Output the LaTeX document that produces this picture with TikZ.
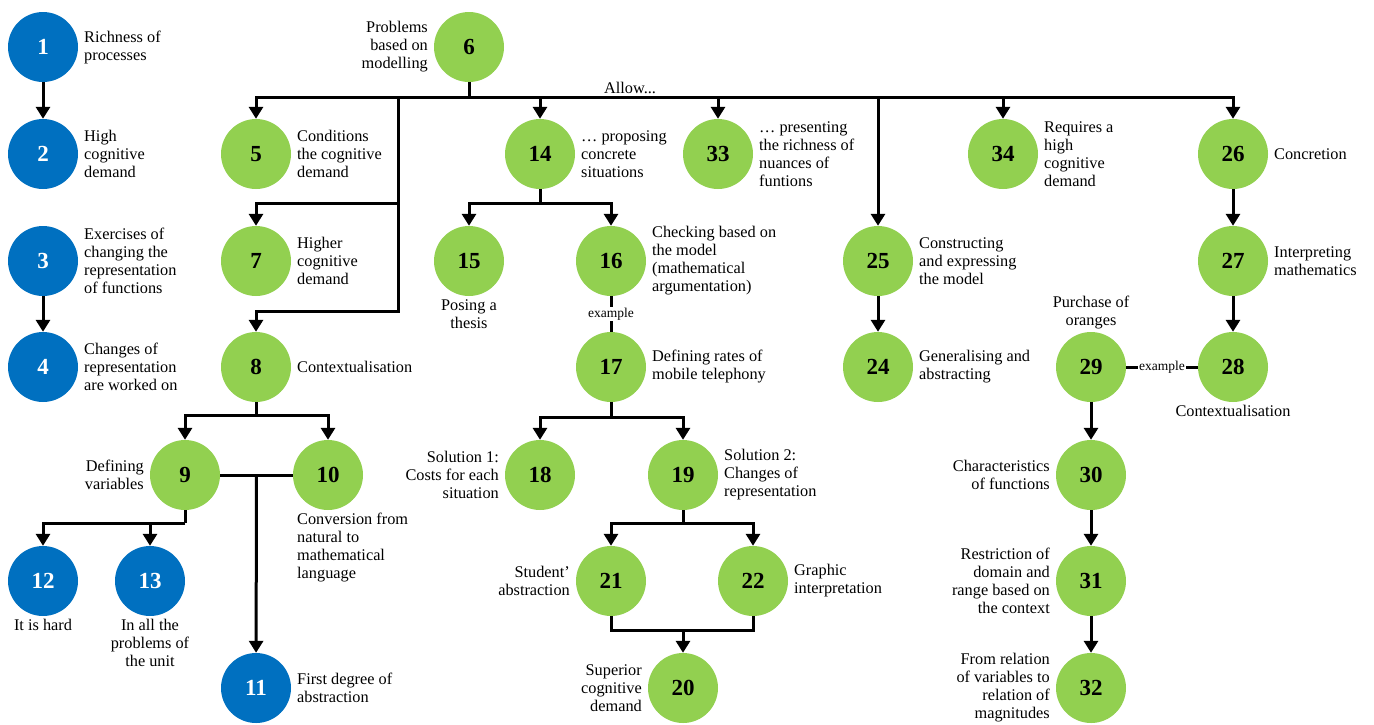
\documentclass[tikz,border=0pt]{standalone}
\usepackage{fontspec}
\setmainfont{Liberation Serif}
\usetikzlibrary{arrows.meta,calc}
\definecolor{leafgreen}{RGB}{146,208,80}
\definecolor{deepblue}{RGB}{0,112,192}
\begin{document}
\begin{tikzpicture}[x=1pt,y=-1pt,
  gnode/.style={circle,fill=leafgreen,minimum size=70pt,inner sep=0pt,
    font=\fontsize{23}{23}\selectfont\bfseries,text=black},
  bnode/.style={gnode,fill=deepblue,text=white},
  txt/.style={font=\fontsize{16.3}{18}\selectfont,inner sep=0pt},
  rtxt/.style={txt,anchor=west,align=left},
  ltxt/.style={txt,anchor=east,align=right},
  btxt/.style={txt,anchor=north,align=center},
  atxt/.style={txt,anchor=south,align=center},
  conn/.style={line width=3pt},
  arr/.style={conn,-{Triangle[width=14pt,length=12pt]}},
  exlabel/.style={fill=white,inner sep=1.2pt,font=\fontsize{13.5}{14}\selectfont}
]
\useasboundingbox (0,0) rectangle (1374,724);

% ---- circles ----
\node[bnode] (n1) at (43,47) {1};
\node[bnode] (n2) at (43,154) {2};
\node[bnode] (n3) at (43,261) {3};
\node[bnode] (n4) at (43,367) {4};
\node[gnode] (n6) at (469,47) {6};
\node[gnode] (n5) at (256,154) {5};
\node[gnode] (n7) at (256,261) {7};
\node[gnode] (n8) at (256,367) {8};
\node[gnode] (n9) at (185,475) {9};
\node[gnode] (n10) at (328,475) {10};
\node[bnode] (n12) at (43,581) {12};
\node[bnode] (n13) at (150,581) {13};
\node[bnode] (n11) at (256,688) {11};
\node[gnode] (n14) at (540,154) {14};
\node[gnode] (n15) at (469,261) {15};
\node[gnode] (n16) at (611,261) {16};
\node[gnode] (n17) at (611,367) {17};
\node[gnode] (n18) at (540,475) {18};
\node[gnode] (n19) at (683,475) {19};
\node[gnode] (n21) at (611,581) {21};
\node[gnode] (n22) at (753,581) {22};
\node[gnode] (n20) at (683,688) {20};
\node[gnode] (n33) at (718,154) {33};
\node[gnode] (n25) at (878,261) {25};
\node[gnode] (n24) at (878,367) {24};
\node[gnode] (n34) at (1003,154) {34};
\node[gnode] (n26) at (1233,154) {26};
\node[gnode] (n27) at (1233,261) {27};
\node[gnode] (n28) at (1233,367) {28};
\node[gnode] (n29) at (1091,367) {29};
\node[gnode] (n30) at (1091,475) {30};
\node[gnode] (n31) at (1091,581) {31};
\node[gnode] (n32) at (1091,688) {32};

% ---- texts ----
\node[rtxt] (t1) at ($(n1)+(41,0)$) {Richness of\\processes};
\node[rtxt] (t2) at ($(n2)+(41,0)$) {High\\cognitive\\demand};
\node[rtxt] (t3) at ($(n3)+(41,0)$) {Exercises of\\changing the\\representation\\of functions};
\node[rtxt] (t4) at ($(n4)+(41,0)$) {Changes of\\representation\\are worked on};
\node[ltxt] (t6) at ($(n6)+(-41,0)$) {Problems\\based on\\modelling};
\node[rtxt] (t5) at ($(n5)+(41,0)$) {Conditions\\the cognitive\\demand};
\node[rtxt] (t7) at ($(n7)+(41,0)$) {Higher\\cognitive\\demand};
\node[rtxt] (t8) at ($(n8)+(41,0)$) {Contextualisation};
\node[ltxt] (t9) at ($(n9)+(-41,0)$) {Defining\\variables};
\node[txt,anchor=north west,align=left] (t10) at ($(n10)+(-31,38)$) {Conversion from\\natural to\\mathematical\\language};
\node[btxt] (t12) at ($(n12)+(0,38)$) {It is hard};
\node[btxt] (t13) at ($(n13)+(0,38)$) {In all the\\problems of\\the unit};
\node[rtxt] (t11) at ($(n11)+(41,0)$) {First degree of\\abstraction};
\node[rtxt] (t14) at ($(n14)+(41,0)$) {… proposing\\concrete\\situations};
\node[btxt] (t15) at ($(n15)+(0,38)$) {Posing a\\thesis};
\node[rtxt] (t16) at ($(n16)+(41,0)$) {Checking based on\\the model\\(mathematical\\argumentation)};
\node[rtxt] (t17) at ($(n17)+(41,0)$) {Defining rates of\\mobile telephony};
\node[ltxt] (t18) at ($(n18)+(-41,0)$) {Solution 1:\\Costs for each\\situation};
\node[rtxt] (t19) at ($(n19)+(41,0)$) {Solution 2:\\Changes of\\representation};
\node[ltxt] (t21) at ($(n21)+(-41,0)$) {Student’\\abstraction};
\node[rtxt] (t22) at ($(n22)+(41,0)$) {Graphic\\interpretation};
\node[ltxt] (t20) at ($(n20)+(-41,0)$) {Superior\\cognitive\\demand};
\node[rtxt] (t33) at ($(n33)+(41,0)$) {… presenting\\the richness of\\nuances of\\funtions};
\node[rtxt] (t25) at ($(n25)+(41,0)$) {Constructing\\and expressing\\the model};
\node[rtxt] (t24) at ($(n24)+(41,0)$) {Generalising and\\abstracting};
\node[rtxt] (t34) at ($(n34)+(41,0)$) {Requires a\\high\\cognitive\\demand};
\node[rtxt] (t26) at ($(n26)+(41,0)$) {Concretion};
\node[rtxt] (t27) at ($(n27)+(41,0)$) {Interpreting\\mathematics};
\node[btxt] (t28) at ($(n28)+(0,38)$) {Contextualisation};
\node[atxt] (t29) at ($(n29)+(0,-38)$) {Purchase of\\oranges};
\node[ltxt] (t30) at ($(n30)+(-41,0)$) {Characteristics\\of functions};
\node[ltxt] (t31) at ($(n31)+(-41,0)$) {Restriction of\\domain and\\range based on\\the context};
\node[ltxt] (t32) at ($(n32)+(-41,0)$) {From relation\\of variables to\\relation of\\magnitudes};
\node[txt,anchor=south] (allow) at (630,94) {Allow...};

% ---- junction points ----
\coordinate (bus) at (0,97);
\coordinate (v0) at (398,97);
\coordinate (v7) at (398,203);
\coordinate (v8) at (398,311);
\coordinate (s8) at (256,415);
\coordinate (s9) at (185,523);
\coordinate (j11) at ($(n9)!0.5!(n10)$);
\coordinate (s14) at (540,203);
\coordinate (s17) at (611,417);
\coordinate (s19) at (683,523);
\coordinate (j20) at (683,630);

% ---- connectors ----
\draw[arr] (n1) -- (n2);
\draw[arr] (n3) -- (n4);

\draw[conn] (n6) -- (n6 |- bus);
\draw[arr] (n6 |- bus) -| (n5);
\draw[arr] (n6 |- bus) -| (n26);
\draw[arr] (n14 |- bus) -- (n14);
\draw[arr] (n33 |- bus) -- (n33);
\draw[arr] (n25 |- bus) -- (n25);
\draw[arr] (n34 |- bus) -- (n34);
\draw[arr] (v0) -- (v8) -| (n8);
\draw[arr] (v7) -| (n7);

\draw[conn] (n8) -- (s8);
\draw[arr] (s8) -| (n9);
\draw[arr] (s8) -| (n10);
\draw[conn] (n9) -- (n10);
\draw[arr] (j11) -- (n11);
\draw[conn] (n9) -- (s9);
\draw[arr] (s9) -| (n12);
\draw[arr] (s9) -| (n13);

\draw[conn] (n14) -- (s14);
\draw[arr] (s14) -| (n15);
\draw[arr] (s14) -| (n16);
\draw[conn] (n16) -- node[exlabel] (ex1) {example} (n17);
\draw[conn] (n17) -- (s17);
\draw[arr] (s17) -| (n18);
\draw[arr] (s17) -| (n19);
\draw[conn] (n19) -- (s19);
\draw[arr] (s19) -| (n21);
\draw[arr] (s19) -| (n22);
\draw[conn] (n21) |- (j20) -| (n22);
\draw[arr] (j20) -- (n20);

\draw[arr] (n25) -- (n24);
\draw[arr] (n26) -- (n27);
\draw[arr] (n27) -- (n28);
\draw[conn] (n29) -- node[exlabel] (ex2) {example} (n28);
\draw[arr] (n29) -- (n30);
\draw[arr] (n30) -- (n31);
\draw[arr] (n31) -- (n32);
\end{tikzpicture}
\end{document}
